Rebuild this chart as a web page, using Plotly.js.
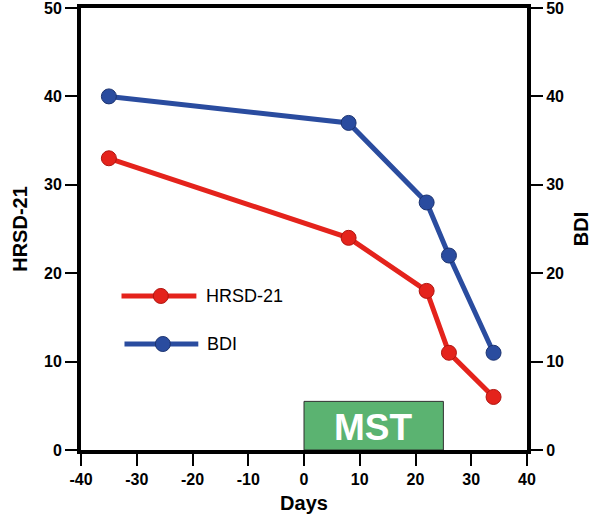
<!DOCTYPE html>
<html>
<head>
<meta charset="utf-8">
<script src="https://cdn.plot.ly/plotly-3.0.1.min.js"></script>
<style>html,body{margin:0;padding:0;background:#fff;}#chart{width:600px;height:525px;}</style>
</head>
<body>
<div id="chart"></div>
<script>
var days = [-35, 8, 22, 26, 34];
var hrsd = [33, 24, 18, 11, 6];
var bdi = [40, 37, 28, 22, 11];
var xTicks = [-40, -30, -20, -10, 0, 10, 20, 30, 40];
var xTickLabels = ['-40', '-30', '-20', '-10', '0', '10', '20', '30', '40'];
var yTicks = [0, 10, 20, 30, 40, 50];
var yTickLabels = ['0', '10', '20', '30', '40', '50'];
var mstStart = 0, mstEnd = 25, mstTop = 5.5;
var seriesNames = ['HRSD-21', 'BDI'];

var red = '#e4231c', blue = '#2a4c9f';
var fontFam = '"Liberation Sans", Arial, Helvetica, sans-serif';
function bold(a) { return a.map(function (s) { return '<b>' + s + '</b>'; }); }

var traces = [
  {x: days, y: hrsd, name: seriesNames[0], mode: 'lines+markers', yaxis: 'y',
   line: {color: red, width: 5}, marker: {color: red, size: 15, line: {color: '#b01510', width: 1}}},
  {x: days, y: bdi, name: seriesNames[1], mode: 'lines+markers', yaxis: 'y2',
   line: {color: blue, width: 5}, marker: {color: blue, size: 15, line: {color: '#1c3370', width: 1}}}
];

var axisCommon = {
  showgrid: false, zeroline: false, showline: true, linecolor: '#000',
  ticks: 'outside', ticklen: 12, tickwidth: 2, tickcolor: '#000',
  tickfont: {family: fontFam, size: 16, color: '#000'}
};

var layout = {
  width: 600, height: 525,
  margin: {l: 81, r: 73, t: 8, b: 75},
  paper_bgcolor: '#fff', plot_bgcolor: '#fff',
  showlegend: false,
  xaxis: Object.assign({}, axisCommon, {
    range: [-40, 40], tickmode: 'array', tickvals: xTicks, ticktext: bold(xTickLabels), linewidth: 4, mirror: true,
    title: {text: '<b>Days</b>', font: {family: fontFam, size: 20, color: '#000'}, standoff: 10}
  }),
  yaxis: Object.assign({}, axisCommon, {
    range: [0, 50], tickmode: 'array', tickvals: yTicks, ticktext: bold(yTickLabels), linewidth: 4, mirror: true,
    ticklabeloverflow: 'allow',
    title: {text: '<b>HRSD-21</b>', font: {family: fontFam, size: 20, color: '#000'}, standoff: 12}
  }),
  yaxis2: Object.assign({}, axisCommon, {
    range: [0, 50], tickmode: 'array', tickvals: yTicks, ticktext: bold(yTickLabels), linewidth: 4, overlaying: 'y', side: 'right',
    ticklabeloverflow: 'allow',
    title: {text: '<b>BDI</b>', font: {family: fontFam, size: 20, color: '#000'}, standoff: 12}
  }),
  shapes: [
    {type: 'rect', xref: 'x', yref: 'y', x0: mstStart, x1: mstEnd, y0: 0, y1: mstTop,
     fillcolor: '#5bb371', line: {color: '#2f2f2f', width: 1}, layer: 'below'},
    // custom legend samples
    {type: 'line', xref: 'paper', yref: 'paper', x0: 0.0908, x1: 0.2587, y0: 0.3485, y1: 0.3485,
     line: {color: red, width: 5}},
    {type: 'circle', xref: 'paper', yref: 'paper', x0: 0.1622, x1: 0.1958, y0: 0.3315, y1: 0.3655,
     fillcolor: red, line: {color: '#b01510', width: 1}},
    {type: 'line', xref: 'paper', yref: 'paper', x0: 0.0975, x1: 0.2630, y0: 0.2398, y1: 0.2398,
     line: {color: blue, width: 5}},
    {type: 'circle', xref: 'paper', yref: 'paper', x0: 0.1667, x1: 0.2003, y0: 0.2228, y1: 0.2568,
     fillcolor: blue, line: {color: '#1c3370', width: 1}}
  ],
  annotations: [
    {xref: 'x', yref: 'y', x: (mstStart + mstEnd) / 2, y: 2.5, text: '<b>MST</b>', showarrow: false,
     font: {family: fontFam, size: 37, color: '#fff'}},
    {xref: 'paper', yref: 'paper', x: 0.2752, y: 0.3485, xanchor: 'left', yanchor: 'middle',
     text: seriesNames[0], showarrow: false, font: {family: fontFam, size: 18, color: '#000'}},
    {xref: 'paper', yref: 'paper', x: 0.2774, y: 0.2398, xanchor: 'left', yanchor: 'middle',
     text: seriesNames[1], showarrow: false, font: {family: fontFam, size: 18, color: '#000'}}
  ]
};

Plotly.newPlot('chart', traces, layout, {displayModeBar: false, staticPlot: true});
</script>
</body>
</html>
